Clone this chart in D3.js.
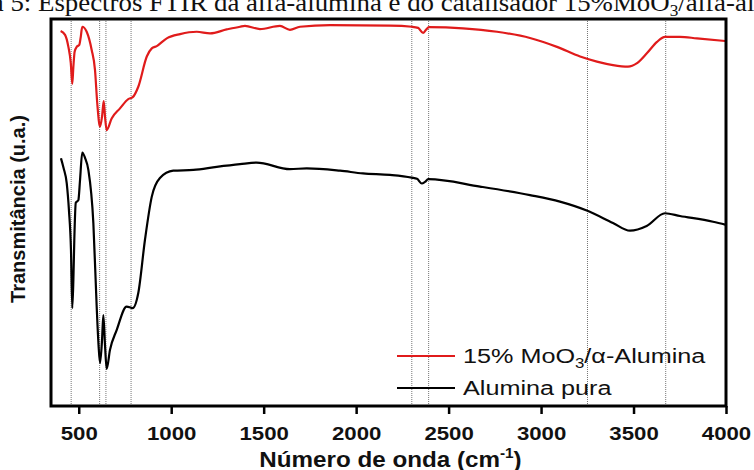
<!DOCTYPE html>
<html>
<head>
<meta charset="utf-8">
<script src="https://cdn.jsdelivr.net/npm/d3@7"></script>
<style>
  html, body { margin: 0; padding: 0; background: #fff; }
  svg { display: block; }
</style>
</head>
<body>
<svg id="chart" width="754" height="470"></svg>
<script>
// FTIR spectra: wavenumber (cm-1) and transmittance (a.u.)
const moWave = [402, 426, 444, 457, 465, 471, 478, 489, 503, 511, 519, 543, 570, 588, 600, 615, 626, 635, 642, 651,
  678, 723, 768, 792, 822, 868, 895, 922, 976, 1048, 1138, 1210, 1300, 1372, 1399, 1480, 1588, 1642, 1696, 1859,
  2183, 2302, 2335, 2362, 2378, 2394, 2578, 2762, 2940, 3086, 3211, 3302, 3389, 3470, 3519, 3573, 3627, 3670,
  3751, 3843, 4000];
const moTrans = [96.9, 95.9, 92.8, 88.6, 83.2, 87.7, 91.6, 92.8, 93.3, 95.4, 98.0, 96.7, 92.0, 86.8, 78.3, 72.2, 74.8, 78.8, 74.8, 71.3,
  74.3, 76.9, 79.3, 79.8, 82.5, 90.3, 92.4, 93.0, 95.0, 96.1, 96.7, 96.3, 97.3, 98.0, 98.2, 97.4, 98.2, 97.2, 98.0, 98.4,
  98.3, 98.0, 97.7, 96.4, 97.2, 97.9, 97.6, 96.7, 95.1, 92.8, 90.3, 89.0, 88.1, 87.7, 88.6, 91.2, 94.1, 95.4,
  95.4, 95.0, 94.3];

const alWave = [404, 418, 435, 447, 458, 465, 471, 476, 484, 498, 507, 519, 534, 552, 579, 597, 607, 615, 626, 633,
  642, 651, 669, 705, 759, 792, 822, 858, 895, 939, 1011, 1120, 1246, 1372, 1462, 1642, 1733, 1913, 2037, 2183,
  2300, 2329, 2355, 2372, 2390, 2670, 2940, 3102, 3247, 3389, 3481, 3571, 3670, 3751, 3930, 4000];
const alTrans = [64.0, 61.5, 57.6, 50.6, 40.3, 25.3, 32.6, 42.9, 52.5, 53.2, 58.4, 65.5, 64.1, 61.0, 47.3, 25.7, 15.8, 11.1, 17.1, 23.5,
  15.8, 9.6, 14.5, 19.6, 25.7, 25.3, 29.2, 42.9, 54.1, 58.9, 60.8, 61.0, 61.8, 62.5, 62.9, 61.2, 61.4, 60.8, 60.1, 59.7,
  59.0, 58.7, 57.5, 57.9, 58.6, 56.7, 54.5, 52.8, 50.5, 47.3, 45.3, 46.5, 49.8, 49.1, 47.6, 46.8];

// Reference band positions (cm-1)
const bandLines = [459, 613, 647, 783, 2301, 2392, 3251, 3674];

const xTicks = [500, 1000, 1500, 2000, 2500, 3000, 3500, 4000];
const seriesNames = ["15% MoO3/α-Alumina", "Alumina pura"];
const seriesColors = ["#e01b1b", "#000000"];

const svg = d3.select("#chart");
const plot = { left: 51, right: 726, top: 19, bottom: 406 };
const STRETCH = 1.17;
const SANS = "'Liberation Sans', Arial, sans-serif";

const x = d3.scaleLinear().domain([350, 4000]).range([plot.left, plot.right]);
const y = d3.scaleLinear().domain([0, 100]).range([plot.bottom, plot.top]);

// caption above the frame (runs past the top edge of the page)
const CAP_STRETCH = 1.075;
const caption = svg.append("text")
  .attr("font-family", "'Liberation Serif', 'Times New Roman', serif")
  .attr("font-size", 25)
  .attr("fill", "#111")
  .attr("transform", `translate(0,11) scale(${CAP_STRETCH},1)`);
caption.append("tspan").attr("class", "pre").text("Figura 5: ");
caption.append("tspan").text("Espectros FTIR da alfa-alumina e do catalisador 15%MoO");
caption.append("tspan").attr("font-size", 16).attr("dy", 5).text("3");
caption.append("tspan").attr("dy", -5).text("/alfa-alumina");
const preW = caption.select(".pre").node().getComputedTextLength();
caption.attr("x", 38 / CAP_STRETCH - preW);

// band marker lines
svg.append("g").selectAll("line").data(bandLines).join("line")
  .attr("x1", d => x(d)).attr("x2", d => x(d))
  .attr("y1", plot.top).attr("y2", plot.bottom)
  .attr("stroke", "#666").attr("stroke-width", 0.9)
  .attr("stroke-dasharray", "1,1");

// spectra
const line = d3.line().x(d => x(d[0])).y(d => y(d[1])).curve(d3.curveMonotoneX);
const spectra = [d3.zip(moWave, moTrans), d3.zip(alWave, alTrans)];
svg.append("g").selectAll("path").data(spectra).join("path")
  .attr("d", line)
  .attr("fill", "none")
  .attr("stroke", (d, i) => seriesColors[i])
  .attr("stroke-width", 2.2)
  .attr("stroke-linejoin", "round");

// x axis
const xAxis = d3.axisBottom(x).tickValues(xTicks).tickFormat(d3.format("d"))
  .tickSize(8).tickPadding(13).tickSizeOuter(0);
const gx = svg.append("g").attr("transform", `translate(0,${plot.bottom})`).call(xAxis);
gx.select(".domain").remove();
gx.selectAll(".tick line").attr("stroke", "#000").attr("stroke-width", 2.5);
gx.selectAll(".tick text")
  .attr("font-family", SANS).attr("font-weight", "bold").attr("font-size", 19)
  .attr("fill", "#111")
  .attr("transform", `scale(${STRETCH},1)`);

// frame
svg.append("rect")
  .attr("x", plot.left).attr("y", plot.top)
  .attr("width", plot.right - plot.left).attr("height", plot.bottom - plot.top)
  .attr("fill", "none").attr("stroke", "#000").attr("stroke-width", 3);

// axis titles
const xt = svg.append("text")
  .attr("transform", `translate(${(plot.left + plot.right) / 2 + 2},467) scale(1.1,1)`)
  .attr("text-anchor", "middle")
  .attr("font-family", SANS).attr("font-weight", "bold").attr("font-size", 22).attr("fill", "#111");
xt.append("tspan").text("Número de onda (cm");
xt.append("tspan").attr("font-size", 14).attr("dy", -9).text("-1");
xt.append("tspan").attr("dy", 9).text(")");

svg.append("text")
  .attr("transform", "translate(25,209) rotate(-90)")
  .attr("text-anchor", "middle")
  .attr("font-family", SANS).attr("font-weight", "bold").attr("font-size", 20).attr("fill", "#111")
  .text("Transmitância (u.a.)");

// legend
const legend = svg.append("g");
const legY = [356, 388];
legend.selectAll("line").data(seriesNames).join("line")
  .attr("x1", 397).attr("x2", 455)
  .attr("y1", (d, i) => legY[i]).attr("y2", (d, i) => legY[i])
  .attr("stroke", (d, i) => seriesColors[i]).attr("stroke-width", 2.2);

const l1 = legend.append("text")
  .attr("transform", `translate(463,${legY[0] + 7}) scale(1.2,1)`)
  .attr("font-family", SANS).attr("font-size", 21).attr("fill", "#111");
l1.append("tspan").text("15% MoO");
l1.append("tspan").attr("font-size", 14).attr("dy", 5).text("3");
l1.append("tspan").attr("dy", -5).text("/α-Alumina");

legend.append("text")
  .attr("transform", `translate(463,${legY[1] + 7}) scale(1.2,1)`)
  .attr("font-family", SANS).attr("font-size", 21).attr("fill", "#111")
  .text(seriesNames[1]);
</script>
</body>
</html>
